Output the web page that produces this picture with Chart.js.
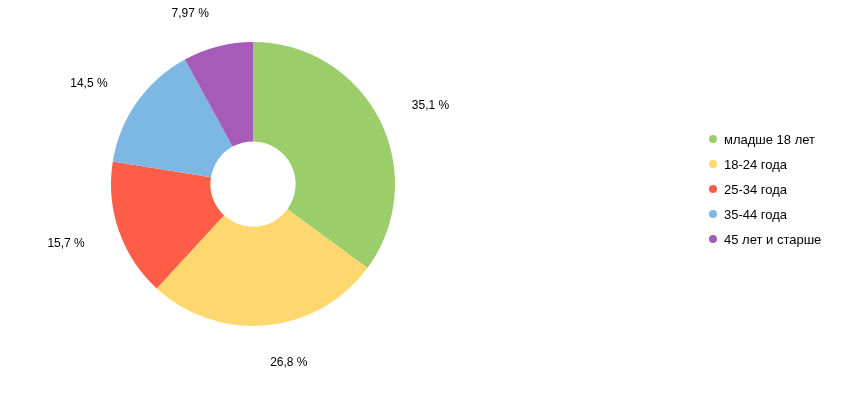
<!DOCTYPE html>
<html>
<head>
<meta charset="utf-8">
<script src="https://cdn.jsdelivr.net/npm/chart.js@4"></script>
<style>
  body { margin: 0; background: #fff; }
  #wrap { width: 842px; height: 396px; position: relative; }
</style>
</head>
<body>
<div id="wrap"><canvas id="myChart"></canvas></div>
<script>
const labels = ['младше 18 лет', '18-24 года', '25-34 года', '35-44 года', '45 лет и старше'];
const shares = [35.1, 26.8, 15.7, 14.5, 7.97];
const valueLabels = ['35,1 %', '26,8 %', '15,7 %', '14,5 %', '7,97 %'];
const colors = ['#9bce6a', '#fed86f', '#fe5e48', '#7db8e5', '#a55bb7'];

const FONT = '12px "Liberation Sans", Arial, sans-serif';
const LEGEND_FONT = '13px "Liberation Sans", Arial, sans-serif';

// labels next to slices, anchored by their edge like the original
const sliceLabels = {
    id: 'sliceLabels',
    afterDatasetsDraw(chart) {
        const ctx = chart.ctx;
        const meta = chart.getDatasetMeta(0);
        ctx.save();
        ctx.font = FONT;
        ctx.fillStyle = '#000';
        ctx.textBaseline = 'middle';
        meta.data.forEach((arc, i) => {
            const mid = (arc.startAngle + arc.endAngle) / 2;
            const r = arc.outerRadius + 36;
            const x = arc.x + Math.cos(mid) * r;
            const y = arc.y + Math.sin(mid) * r;
            ctx.textAlign = Math.cos(mid) >= 0 ? 'left' : 'right';
            ctx.fillText(valueLabels[i], x, y + 2);
        });
        ctx.restore();
    }
};

const sideLegend = {
    id: 'sideLegend',
    afterDraw(chart) {
        const ctx = chart.ctx;
        ctx.save();
        ctx.font = LEGEND_FONT;
        ctx.textBaseline = 'middle';
        ctx.textAlign = 'left';
        chart.data.labels.forEach((lab, i) => {
            const y = 139 + i * 25;
            ctx.fillStyle = colors[i];
            ctx.beginPath();
            ctx.arc(713, y, 4, 0, Math.PI * 2);
            ctx.fill();
            ctx.fillStyle = '#000';
            ctx.fillText(lab, 724, y + 1);
        });
        ctx.restore();
    }
};

const ctx = document.getElementById('myChart').getContext('2d');
const myChart = new Chart(ctx, {
    type: 'doughnut',
    data: {
        labels: labels,
        datasets: [{
            data: shares,
            backgroundColor: colors,
            borderWidth: 0,
            hoverOffset: 0
        }]
    },
    options: {
        responsive: true,
        maintainAspectRatio: false,
        animation: false,
        cutout: '30%',
        layout: {
            padding: { left: 0, right: 336, top: 42, bottom: 70 }
        },
        plugins: {
            legend: { display: false },
            tooltip: { enabled: false }
        }
    },
    plugins: [sliceLabels, sideLegend]
});
</script>
</body>
</html>
